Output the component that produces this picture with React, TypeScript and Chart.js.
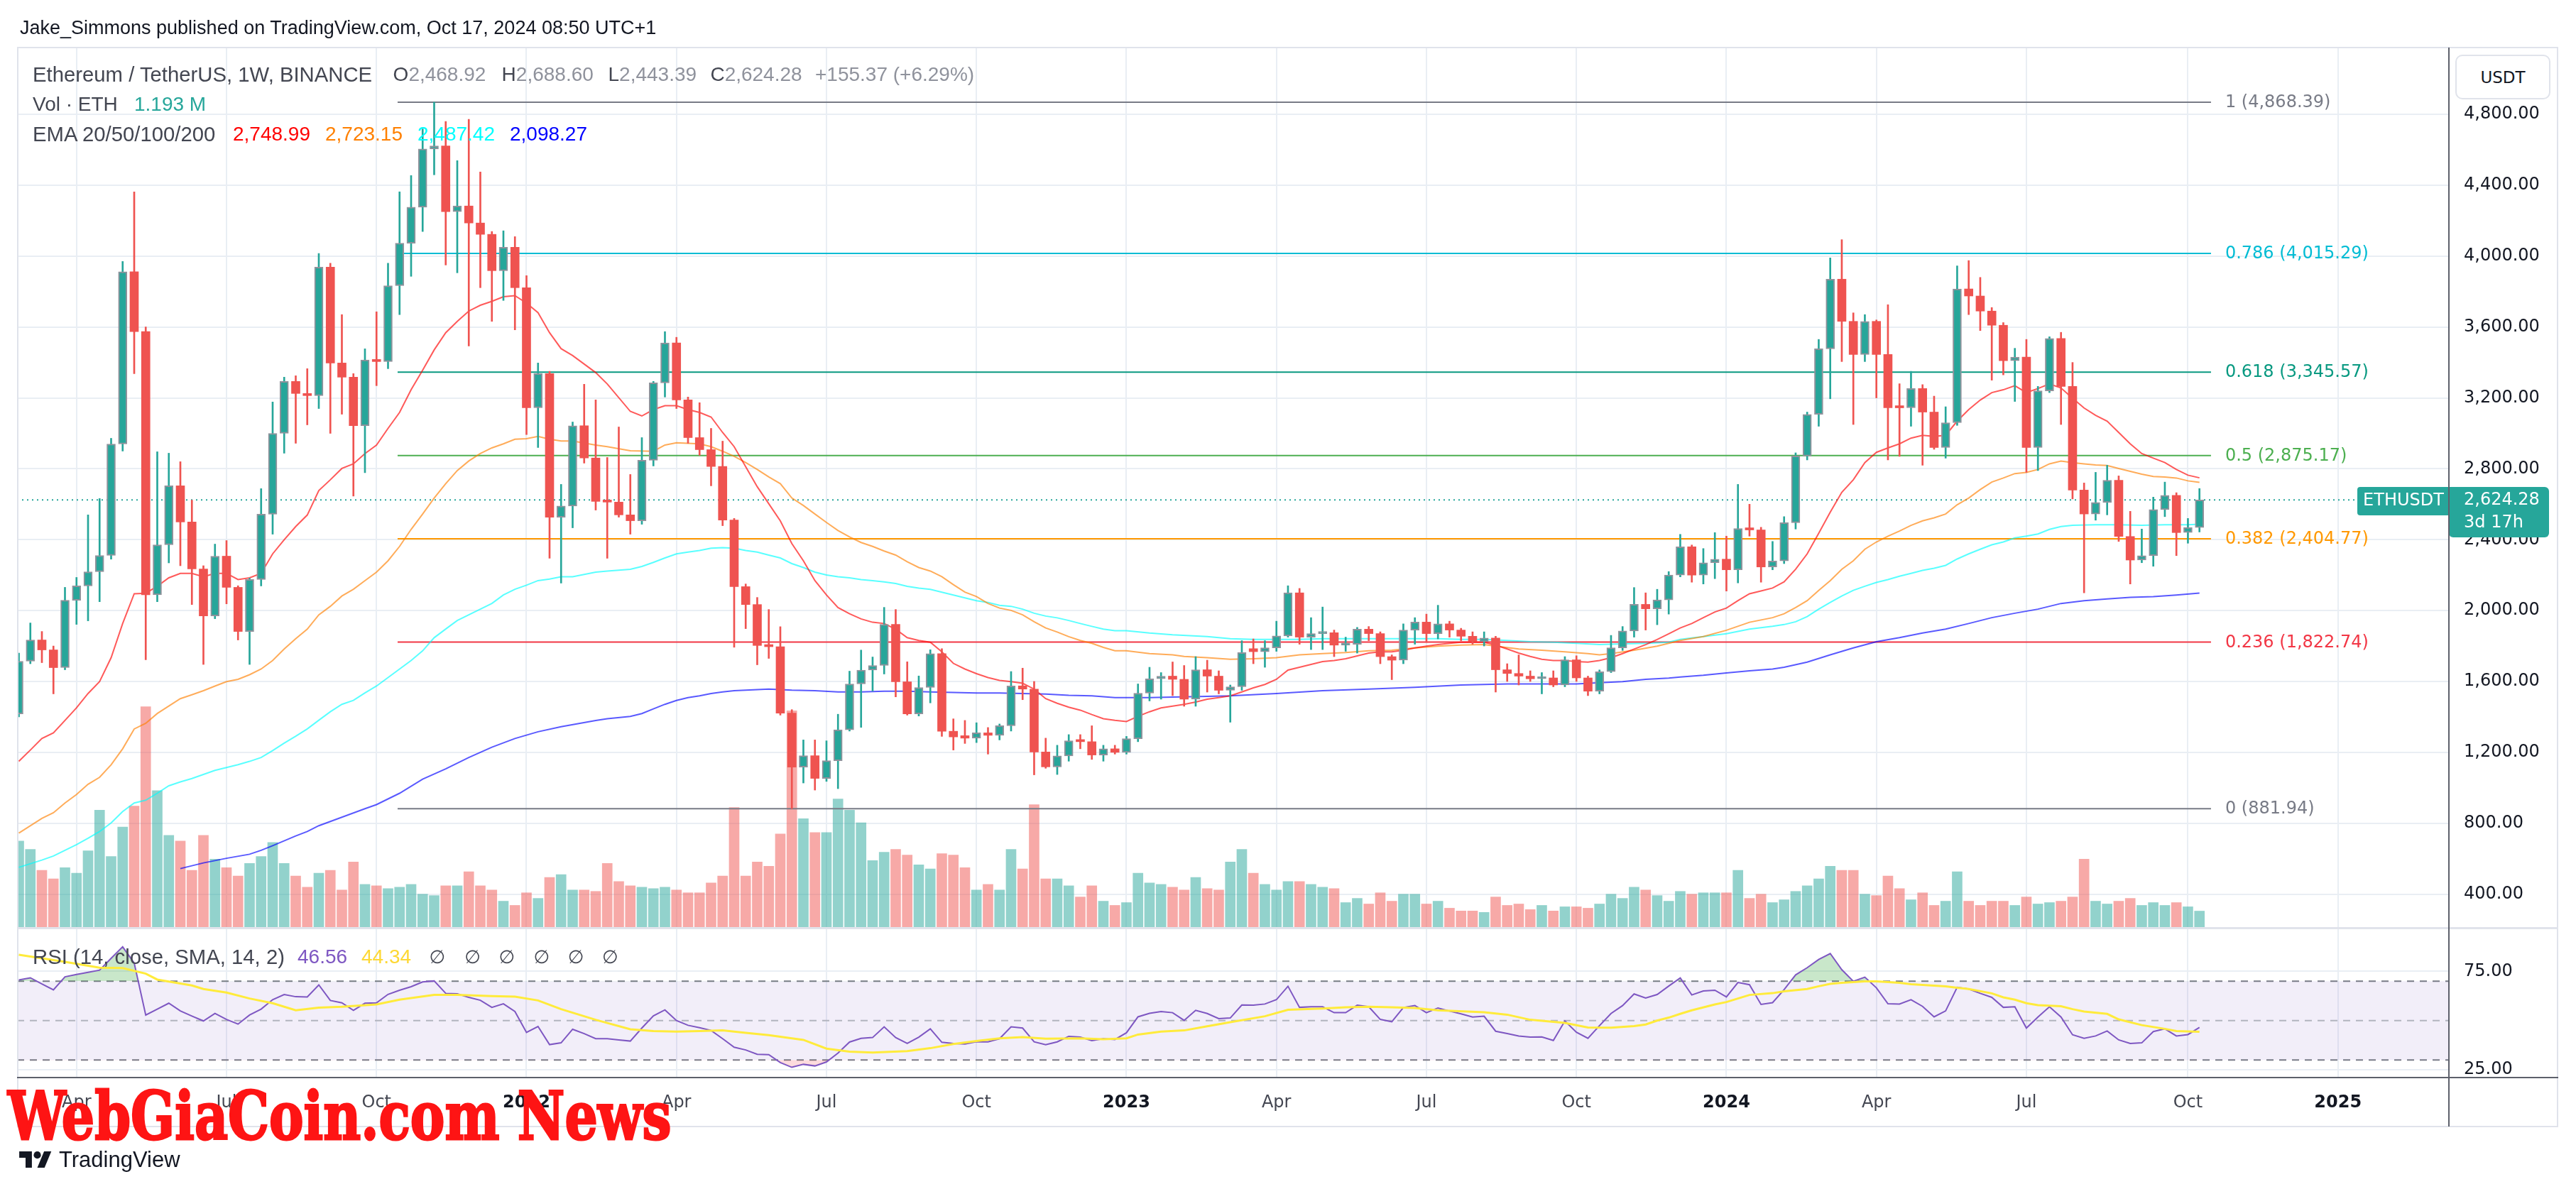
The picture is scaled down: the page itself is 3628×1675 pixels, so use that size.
import React, { useEffect, useLayoutEffect, useRef, useState } from "react";
import { Chart, registerables } from "chart.js";

Chart.register(...registerables);

// ---------------- data (weekly ETH/USDT, index 0 = week of 1 Mar 2021) ----------------
const opens = [
  1417, 1714, 1834, 1778, 1678, 2058, 2139, 2219, 2311, 2940,
  3912, 3574, 2089, 2371, 2704, 2500, 2235, 1970, 2307, 2131,
  1882, 2175, 2544, 3000, 3293, 3225, 3213, 3938, 3397, 3317,
  3043, 3414, 3405, 3833, 4073, 4276, 4605, 4622, 4251, 4283,
  4187, 4123, 3918, 4050, 3822, 3144, 3337, 2527, 2590, 3043,
  2861, 2616, 2612, 2540, 2507, 2848, 3285, 3510, 3189, 2976,
  2908, 2813, 2511, 2135, 2034, 1803, 1796, 1421, 1117, 1181,
  1053, 1153, 1327, 1586, 1664, 1690, 1922, 1598, 1417, 1566,
  1757, 1319, 1294, 1280, 1310, 1296, 1350, 1575, 1557, 1202,
  1118, 1180, 1270, 1260, 1185, 1220, 1200, 1277, 1534, 1615,
  1630, 1612, 1500, 1666, 1630, 1550, 1570, 1785, 1768, 1790,
  1857, 2100, 1850, 1870, 1875, 1805, 1810, 1895, 1870, 1740,
  1720, 1890, 1935, 1870, 1925, 1890, 1855, 1825, 1845, 1666,
  1645, 1630, 1615, 1620, 1580, 1722, 1620, 1545, 1655, 1790,
  1885, 2035, 2010, 2060, 2200, 2360, 2200, 2270, 2290, 2230,
  2463, 2455, 2246, 2280, 2496, 2872, 3107, 3477, 3870, 3632,
  3445, 3632, 3445, 3150, 3144, 3253, 3120, 2920, 3060, 3815,
  3775, 3690, 3610, 3410, 3430, 2920, 3240, 3535, 3265, 2680,
  2545, 2610, 2735, 2418, 2285, 2310, 2570, 2650, 2440, 2468.92,
];
const highs = [
  1760, 1930, 1882, 1800, 2131, 2187, 2540, 2632, 2972, 3970,
  4363, 3600, 2896, 2888, 2840, 2623, 2253, 2375, 2395, 2140,
  2183, 2688, 3177, 3317, 3325, 3365, 4015, 3960, 3670, 3337,
  3477, 3686, 3960, 4363, 4455, 4718, 4868.39, 4760, 4539, 4772,
  4475, 4139, 4143, 4110, 3890, 3397, 3350, 2712, 3064, 3277,
  3189, 2864, 3036, 2768, 2976, 3293, 3574, 3542, 3205, 3173,
  3028, 2956, 2520, 2150, 2074, 2006, 1909, 1441, 1270, 1270,
  1265, 1415, 1658, 1777, 1738, 2018, 2006, 1711, 1631, 1779,
  1785, 1389, 1380, 1367, 1340, 1360, 1656, 1675, 1600, 1280,
  1240, 1300, 1300, 1350, 1240, 1240, 1290, 1586, 1680, 1650,
  1710, 1690, 1740, 1720, 1660, 1580, 1830, 1840, 1830, 1940,
  2140, 2125, 1960, 2020, 1890, 1850, 1905, 1910, 1880, 1750,
  1925, 1960, 1980, 2030, 1940, 1900, 1880, 1880, 1855, 1700,
  1750, 1660, 1650, 1660, 1740, 1745, 1630, 1665, 1860, 1910,
  2130, 2100, 2120, 2220, 2430, 2370, 2350, 2440, 2420, 2712,
  2600, 2470, 2390, 2530, 2890, 3120, 3530, 3990, 4093, 3680,
  3670, 3640, 3726, 3280, 3350, 3275, 3210, 3150, 3945, 3975,
  3880, 3710, 3625, 3480, 3530, 3265, 3545, 3570, 3400, 2720,
  2780, 2820, 2760, 2560, 2460, 2640, 2725, 2665, 2520, 2688.6,
];
const lows = [
  1400, 1700, 1706, 1530, 1666, 1922, 1942, 2050, 2290, 2900,
  3337, 1722, 2050, 2269, 2253, 2034, 1696, 1954, 2038, 1834,
  1696, 2139, 2431, 2888, 2944, 3048, 3140, 3000, 3108, 2646,
  2778, 3269, 3365, 3670, 3886, 4139, 4459, 3950, 3906, 3493,
  3822, 3632, 3750, 3584, 2993, 2920, 2295, 2155, 2467, 2832,
  2567, 2295, 2527, 2431, 2487, 2816, 3205, 3140, 2944, 2876,
  2704, 2479, 1793, 1898, 1694, 1730, 1410, 881.94, 1027, 987,
  1036, 995, 1320, 1341, 1546, 1642, 1513, 1410, 1405, 1479,
  1290, 1213, 1250, 1255, 1190, 1270, 1320, 1497, 1073, 1110,
  1075, 1150, 1220, 1160, 1150, 1190, 1190, 1260, 1490, 1500,
  1520, 1460, 1460, 1540, 1530, 1370, 1550, 1700, 1680, 1770,
  1850, 1810, 1780, 1780, 1740, 1770, 1760, 1830, 1700, 1610,
  1700, 1810, 1820, 1840, 1850, 1830, 1810, 1800, 1540, 1600,
  1580, 1600, 1530, 1570, 1570, 1600, 1520, 1530, 1650, 1775,
  1850, 1890, 1920, 1980, 2190, 2160, 2150, 2180, 2110, 2156,
  2420, 2160, 2230, 2265, 2460, 2850, 3040, 3195, 3405, 3050,
  3405, 3200, 2850, 2870, 3040, 2820, 2910, 2860, 3045, 3670,
  3580, 3300, 3330, 3180, 2780, 2790, 3230, 3050, 2630, 2100,
  2510, 2540, 2390, 2150, 2270, 2250, 2530, 2310, 2380, 2443.39,
];
const closes = [
  1714, 1834, 1778, 1678, 2058, 2139, 2219, 2311, 2940, 3912,
  3574, 2089, 2371, 2704, 2500, 2235, 1970, 2307, 2131, 1882,
  2175, 2544, 3000, 3293, 3225, 3213, 3938, 3397, 3317, 3043,
  3414, 3405, 3833, 4073, 4276, 4605, 4622, 4251, 4283, 4187,
  4123, 3918, 4050, 3822, 3144, 3337, 2527, 2590, 3043, 2861,
  2616, 2612, 2540, 2507, 2848, 3285, 3510, 3189, 2976, 2908,
  2813, 2511, 2135, 2034, 1803, 1796, 1421, 1117, 1181, 1053,
  1153, 1327, 1586, 1664, 1690, 1922, 1598, 1417, 1566, 1757,
  1319, 1287, 1280, 1310, 1296, 1350, 1575, 1557, 1202, 1118,
  1180, 1265, 1260, 1185, 1220, 1200, 1277, 1534, 1615, 1630,
  1612, 1500, 1666, 1630, 1550, 1570, 1763, 1768, 1790, 1857,
  2100, 1850, 1870, 1875, 1805, 1810, 1895, 1870, 1740, 1720,
  1890, 1935, 1870, 1925, 1890, 1855, 1825, 1845, 1666, 1645,
  1630, 1615, 1620, 1580, 1722, 1620, 1545, 1655, 1790, 1885,
  2035, 2010, 2060, 2200, 2360, 2200, 2270, 2290, 2230, 2463,
  2455, 2246, 2280, 2496, 2872, 3107, 3477, 3870, 3632, 3445,
  3632, 3445, 3144, 3144, 3253, 3120, 2920, 3060, 3815, 3775,
  3690, 3610, 3410, 3430, 2920, 3240, 3535, 3265, 2680, 2545,
  2610, 2735, 2418, 2285, 2310, 2570, 2650, 2440, 2468.92, 2624.28,
];
// volume in millions of ETH
const volumes = [
  6.2, 5.6, 4.1, 3.5, 4.3, 3.9, 5.5, 8.4, 5.1, 7.2,
  8.7, 15.8, 9.8, 6.6, 6.2, 4.1, 6.6, 4.9, 4.3, 3.7,
  4.6, 5.1, 6.1, 4.6, 3.7, 2.9, 3.9, 4.1, 2.7, 4.7,
  3.1, 3.0, 2.8, 2.9, 3.1, 2.4, 2.3, 3.0, 3.0, 4.0,
  3.0, 2.7, 1.9, 1.6, 2.5, 2.1, 3.6, 3.8, 2.7, 2.7,
  2.6, 4.6, 3.3, 3.0, 2.9, 2.8, 2.9, 2.7, 2.5, 2.5,
  3.2, 3.7, 8.6, 3.7, 4.7, 4.4, 6.7, 15.5, 7.8, 6.8,
  6.8, 9.2, 8.4, 7.5, 4.8, 5.4, 5.6, 5.2, 4.5, 4.2,
  5.3, 5.2, 4.3, 2.7, 3.1, 2.7, 5.6, 4.2, 8.8, 3.5,
  3.5, 3.0, 2.2, 3.0, 1.9, 1.6, 1.8, 3.9, 3.2, 3.1,
  2.9, 2.7, 3.6, 2.8, 2.7, 4.7, 5.6, 3.9, 3.1, 2.7,
  3.3, 3.3, 3.1, 2.9, 2.8, 1.8, 2.1, 1.7, 2.5, 1.9,
  2.4, 2.4, 1.7, 1.9, 1.4, 1.2, 1.2, 1.1, 2.2, 1.6,
  1.7, 1.3, 1.6, 1.2, 1.5, 1.5, 1.4, 1.7, 2.4, 2.1,
  2.9, 2.7, 2.3, 1.9, 2.6, 2.4, 2.5, 2.5, 2.5, 4.1,
  2.1, 2.4, 1.8, 2.0, 2.6, 3.0, 3.5, 4.4, 4.1, 4.1,
  2.4, 2.3, 3.7, 2.8, 2.0, 2.5, 1.6, 1.9, 4.0, 1.9,
  1.6, 1.9, 1.9, 1.6, 2.2, 1.7, 1.8, 1.9, 2.2, 4.9,
  1.9, 1.7, 1.9, 2.1, 1.6, 1.8, 1.6, 1.8, 1.5, 1.193,
];
// EMA readings: [bar index, value]
const ema20 = [
  [0, 1149], [1, 1213], [2, 1278], [3, 1310], [4, 1380], [5, 1451], [6, 1532], [7, 1599], [8, 1734], [9, 1927],
  [10, 2095], [11, 2098], [12, 2137], [13, 2185], [14, 2210], [15, 2210], [16, 2191], [17, 2210], [18, 2210], [19, 2175],
  [20, 2185], [21, 2210], [22, 2320], [23, 2400], [24, 2474], [25, 2539], [26, 2677], [27, 2738], [28, 2802], [29, 2828],
  [30, 2886], [31, 2934], [32, 3028], [33, 3118], [34, 3246], [35, 3356], [36, 3471], [37, 3568], [38, 3632], [39, 3690],
  [40, 3723], [41, 3745], [42, 3771], [43, 3777], [44, 3735], [45, 3681], [46, 3568], [47, 3478], [48, 3439], [50, 3343],
  [51, 3279], [53, 3124], [54, 3098], [55, 3134], [56, 3156], [57, 3156], [58, 3134], [59, 3118], [60, 3092], [61, 3005],
  [62, 2925], [63, 2812], [64, 2699], [65, 2603], [66, 2506], [67, 2378], [68, 2281], [69, 2169], [70, 2088], [71, 2017],
  [72, 1982], [73, 1953], [74, 1934], [75, 1927], [76, 1895], [77, 1847], [78, 1831], [79, 1821], [80, 1767], [81, 1702],
  [82, 1670], [83, 1644], [84, 1622], [85, 1606], [86, 1599], [87, 1590], [88, 1557], [89, 1503], [90, 1477], [91, 1455],
  [92, 1438], [93, 1413], [94, 1390], [95, 1381], [96, 1374], [97, 1403], [98, 1429], [99, 1451], [100, 1461], [101, 1471],
  [102, 1484], [103, 1500], [104, 1509], [105, 1519], [106, 1541], [107, 1564], [108, 1583], [109, 1612], [110, 1664], [111, 1680],
  [112, 1696], [113, 1712], [114, 1718], [115, 1728], [116, 1744], [117, 1760], [118, 1767], [119, 1767], [120, 1776], [121, 1789],
  [122, 1799], [123, 1808], [124, 1815], [125, 1821], [126, 1821], [127, 1821], [128, 1805], [129, 1783], [130, 1760], [131, 1741],
  [132, 1725], [133, 1718], [134, 1718], [135, 1712], [136, 1709], [137, 1718], [138, 1734], [139, 1757], [140, 1783], [141, 1808],
  [142, 1837], [143, 1869], [144, 1902], [145, 1927], [146, 1960], [147, 1992], [148, 2014], [149, 2056], [150, 2095], [151, 2111],
  [152, 2127], [153, 2162], [154, 2233], [155, 2320], [156, 2436], [157, 2555], [158, 2667], [159, 2738], [160, 2835], [161, 2893],
  [162, 2918], [163, 2941], [164, 2973], [165, 2989], [166, 2983], [167, 2989], [168, 3069], [169, 3134], [170, 3188], [171, 3230],
  [172, 3246], [173, 3269], [174, 3230], [175, 3253], [176, 3279], [177, 3256], [178, 3198], [179, 3143], [180, 3102], [181, 3069],
  [182, 3005], [183, 2941], [184, 2886], [185, 2860], [186, 2835], [187, 2796], [188, 2764], [189, 2748.99],
];
const ema50 = [
  [0, 744], [2, 827], [3, 859], [4, 914], [5, 962], [6, 1020], [7, 1059], [8, 1130], [9, 1220], [10, 1332],
  [11, 1364], [12, 1419], [13, 1461], [14, 1503], [15, 1525], [16, 1548], [17, 1574], [18, 1599], [19, 1612], [20, 1638],
  [21, 1670], [22, 1718], [23, 1783], [24, 1841], [25, 1895], [26, 1976], [27, 2024], [28, 2082], [29, 2120], [30, 2169],
  [31, 2217], [32, 2281], [33, 2362], [34, 2458], [35, 2545], [36, 2635], [37, 2716], [38, 2790], [39, 2844], [40, 2886],
  [41, 2918], [42, 2941], [43, 2967], [44, 2970], [45, 2983], [46, 2967], [47, 2957], [48, 2957], [50, 2934], [51, 2925],
  [53, 2902], [55, 2899], [56, 2934], [57, 2947], [59, 2941], [60, 2925], [61, 2899], [62, 2870], [63, 2835], [64, 2796],
  [65, 2754], [66, 2716], [67, 2635], [68, 2593], [69, 2545], [70, 2497], [71, 2452], [72, 2416], [73, 2384], [74, 2362],
  [75, 2336], [76, 2313], [77, 2275], [78, 2243], [79, 2223], [80, 2191], [81, 2146], [82, 2104], [83, 2079], [84, 2040],
  [85, 2014], [86, 2001], [87, 1976], [88, 1937], [89, 1902], [90, 1879], [91, 1853], [92, 1831], [93, 1815], [94, 1792],
  [95, 1773], [96, 1773], [98, 1757], [100, 1750], [101, 1741], [103, 1734], [105, 1725], [107, 1728], [109, 1734], [111, 1750],
  [113, 1757], [115, 1763], [117, 1773], [119, 1776], [121, 1789], [123, 1799], [125, 1805], [127, 1808], [128, 1799], [130, 1783],
  [132, 1776], [134, 1767], [136, 1757], [137, 1750], [138, 1757], [140, 1776], [142, 1799], [143, 1815], [144, 1831], [146, 1853],
  [148, 1889], [150, 1934], [152, 1960], [153, 1982], [154, 2017], [155, 2056], [156, 2114], [157, 2169], [158, 2233], [159, 2281],
  [160, 2346], [161, 2387], [162, 2420], [163, 2449], [164, 2481], [165, 2506], [166, 2523], [167, 2545], [168, 2597], [169, 2635],
  [170, 2683], [171, 2725], [172, 2748], [173, 2773], [174, 2780], [175, 2796], [176, 2828], [177, 2844], [178, 2835], [179, 2828],
  [180, 2822], [181, 2819], [182, 2802], [183, 2786], [184, 2770], [185, 2757], [186, 2754], [187, 2748], [188, 2732], [189, 2723.15],
];
const ema100 = [
  [0, 551], [2, 592], [3, 615], [4, 647], [5, 679], [6, 715], [7, 753], [8, 802], [9, 866], [10, 914],
  [11, 930], [12, 969], [13, 1011], [14, 1033], [15, 1052], [16, 1075], [17, 1098], [18, 1114], [19, 1130], [20, 1149],
  [21, 1171], [22, 1210], [23, 1252], [24, 1291], [25, 1332], [26, 1381], [27, 1429], [28, 1471], [29, 1493], [30, 1535],
  [31, 1574], [32, 1622], [33, 1670], [34, 1718], [35, 1773], [36, 1847], [37, 1896], [38, 1944], [39, 1976], [40, 2008],
  [41, 2040], [42, 2088], [43, 2120], [44, 2143], [45, 2169], [46, 2178], [47, 2191], [48, 2191], [50, 2217], [51, 2223],
  [53, 2233], [54, 2249], [55, 2272], [56, 2297], [57, 2320], [58, 2330], [59, 2339], [60, 2352], [61, 2355], [62, 2352],
  [63, 2339], [64, 2330], [65, 2313], [66, 2297], [67, 2265], [68, 2243], [69, 2217], [70, 2201], [71, 2191], [72, 2185],
  [73, 2175], [74, 2169], [75, 2162], [76, 2153], [77, 2137], [78, 2127], [79, 2120], [80, 2104], [81, 2088], [82, 2072],
  [83, 2056], [84, 2046], [85, 2030], [86, 2024], [87, 2008], [88, 1985], [89, 1969], [90, 1959], [91, 1944], [92, 1927],
  [93, 1911], [94, 1895], [95, 1886], [96, 1886], [98, 1873], [100, 1863], [103, 1853], [105, 1841], [107, 1837], [109, 1837],
  [111, 1837], [113, 1841], [115, 1841], [117, 1841], [119, 1841], [121, 1841], [123, 1841], [125, 1837], [127, 1837], [129, 1831],
  [131, 1824], [133, 1821], [135, 1815], [137, 1808], [139, 1812], [141, 1815], [143, 1821], [144, 1837], [146, 1853], [148, 1869],
  [150, 1895], [152, 1911], [153, 1921], [154, 1937], [155, 1966], [156, 2008], [157, 2046], [158, 2082], [159, 2114], [160, 2137],
  [161, 2159], [162, 2175], [163, 2194], [164, 2210], [165, 2227], [166, 2239], [167, 2255], [168, 2291], [169, 2320], [170, 2346],
  [171, 2371], [172, 2387], [173, 2410], [174, 2420], [175, 2432], [176, 2458], [177, 2474], [178, 2481], [180, 2484], [182, 2484],
  [184, 2481], [186, 2484], [188, 2484], [189, 2487.42],
];
const ema200 = [
  [14, 544], [16, 576], [18, 602], [20, 625], [21, 647], [22, 673], [24, 728], [25, 753], [26, 786], [28, 834],
  [30, 882], [31, 905], [33, 969], [35, 1049], [37, 1107], [39, 1171], [41, 1229], [43, 1278], [45, 1316], [47, 1345],
  [50, 1380], [51, 1390], [53, 1403], [54, 1419], [55, 1445], [56, 1471], [57, 1493], [58, 1509], [59, 1519], [60, 1532],
  [61, 1541], [62, 1548], [63, 1551], [64, 1554], [65, 1557], [66, 1554], [67, 1551], [69, 1548], [71, 1541], [73, 1541],
  [75, 1545], [77, 1545], [79, 1541], [81, 1538], [83, 1535], [85, 1535], [87, 1532], [89, 1529], [91, 1522], [93, 1519],
  [95, 1509], [98, 1509], [100, 1512], [103, 1516], [105, 1519], [109, 1532], [113, 1548], [117, 1557], [121, 1567], [125, 1580],
  [129, 1586], [133, 1586], [135, 1586], [137, 1593], [139, 1599], [141, 1612], [143, 1619], [144, 1625], [146, 1635], [148, 1648],
  [150, 1660], [152, 1670], [153, 1680], [155, 1709], [157, 1750], [159, 1789], [161, 1824], [163, 1847], [165, 1873], [167, 1895],
  [169, 1927], [171, 1960], [173, 1985], [175, 2008], [177, 2040], [179, 2056], [181, 2066], [183, 2075], [185, 2079], [187, 2088],
  [189, 2098.27],
];
const rsi = [
  70.6, 71.7, 68.6, 65.6, 72.2, 73.4, 74.5, 75.6, 81.6, 87.4,
  79.2, 52.8, 55.8, 58.8, 54.9, 52.3, 49.8, 53.6, 50.6, 48.2,
  52.8, 55.8, 60.6, 63.2, 62.1, 62.0, 68.1, 60.2, 59.0, 55.2,
  58.8, 59.0, 63.3, 65.4, 67.2, 69.6, 70.1, 63.8, 63.6, 61.8,
  60.3, 56.7, 58.5, 54.6, 44.0, 47.0, 37.8, 38.7, 45.6, 43.4,
  40.8, 40.8, 40.2, 39.6, 46.2, 52.4, 55.4, 50.0, 47.6, 46.4,
  45.0, 40.8, 36.5, 35.1, 32.9, 32.7, 28.7, 26.3, 27.8, 27.0,
  29.0, 33.5, 39.1, 41.0, 41.4, 46.8, 41.4, 38.4, 41.6, 45.8,
  39.0, 38.4, 38.1, 39.3, 39.2, 40.8, 46.8, 46.2, 39.2, 37.8,
  39.2, 42.0, 41.6, 39.8, 40.8, 40.4, 43.8, 51.9, 53.7, 54.6,
  54.0, 50.1, 55.2, 53.6, 51.0, 51.3, 57.9, 57.8, 58.4, 60.6,
  67.4, 56.7, 57.0, 57.0, 54.0, 54.0, 57.8, 57.0, 50.6, 49.4,
  56.6, 57.6, 54.0, 56.4, 54.8, 53.4, 51.8, 52.2, 44.6, 43.4,
  42.2, 41.6, 41.7, 39.9, 49.8, 44.1, 41.0, 47.4, 53.6, 57.6,
  63.5, 61.4, 63.2, 67.5, 71.6, 63.0, 65.0, 65.4, 62.0, 69.3,
  68.2, 58.2, 59.1, 65.7, 73.2, 76.8, 81.0, 84.0, 75.8, 69.9,
  72.0, 66.6, 58.5, 58.4, 60.6, 57.2, 51.9, 54.9, 66.9, 66.0,
  63.8, 61.8, 56.7, 57.0, 46.2, 51.8, 57.0, 51.8, 42.8, 41.0,
  42.2, 44.7, 40.2, 38.4, 38.7, 44.4, 45.8, 42.2, 42.9, 46.56,
];
const rsiSma = [
  [0, 83.4], [2, 81.6], [4, 79.8], [7, 76.8], [9, 76.6], [11, 73.8], [12, 70.8], [13, 69.8], [15, 67.8], [16, 66.0],
  [18, 64.2], [20, 61.2], [22, 58.8], [24, 55.2], [26, 56.6], [28, 57.0], [31, 58.2], [33, 60.6], [36, 63.0], [38, 63.0],
  [41, 62.4], [43, 62.1], [45, 60.2], [47, 55.8], [50, 50.4], [53, 45.6], [55, 44.7], [57, 44.4], [59, 44.7], [61, 45.0],
  [63, 43.8], [65, 42.6], [68, 40.2], [70, 35.8], [72, 34.2], [74, 33.8], [77, 34.5], [79, 36.0], [81, 38.1], [83, 39.6],
  [85, 41.0], [87, 41.6], [89, 40.8], [92, 41.0], [94, 40.5], [96, 41.0], [97, 42.9], [99, 44.4], [101, 45.0], [103, 47.1],
  [105, 49.2], [108, 52.2], [110, 55.5], [113, 56.1], [115, 56.7], [117, 57.0], [119, 56.7], [121, 56.4], [123, 55.2], [127, 54.2],
  [129, 53.0], [131, 50.4], [134, 48.8], [136, 46.5], [138, 46.4], [140, 47.2], [141, 48.0], [142, 50.0], [143, 51.5], [144, 53.4],
  [145, 55.2], [147, 58.2], [148, 59.4], [149, 61.2], [150, 63.0], [152, 63.9], [153, 64.8], [155, 66.0], [156, 67.4], [157, 68.6],
  [158, 69.2], [160, 69.9], [161, 69.9], [163, 69.2], [164, 68.4], [165, 68.1], [167, 67.4], [168, 66.6], [169, 66.0], [171, 63.8],
  [172, 61.8], [173, 60.6], [174, 58.8], [175, 57.8], [177, 57.3], [178, 55.8], [179, 54.6], [181, 53.4], [182, 50.6], [184, 47.7],
  [186, 45.8], [187, 44.7], [189, 44.34],
];
// time axis ticks (bar index of first weekly bar of the month)
const timeTickIndex = [5, 18, 31, 44, 57, 70, 83, 96, 109, 122, 135, 148, 161, 174, 188, 201];
const timeTickLabels = ["Apr", "Jul", "Oct", "2022", "Apr", "Jul", "Oct", "2023", "Apr", "Jul", "Oct", "2024", "Apr", "Jul", "Oct", "2025"];
// Fibonacci retracement
const fibRatios = ["1", "0.786", "0.618", "0.5", "0.382", "0.236", "0"];
const fibPrices = [4868.39, 4015.29, 3345.57, 2875.17, 2404.77, 1822.74, 881.94];
const fibColors = ["#787b86", "#00bcd4", "#089981", "#4caf50", "#ff9800", "#f23645", "#787b86"];
const fibStart = 32.83;
const fibEnd = 190;
const rsiLevels = [70, 50, 30];
const rsiTicks = [25, 75];

// ---------------- layout constants ----------------
const W = 3628;
const H = 1675;
const X_MIN = -0.154;
const X_MAX = 210.62;
const P_MIN = 210;
const P_MAX = 5177;
const V_MAX = 62.9;
const R_MIN = 21.1;
const R_MAX = 96.7;
const AXIS_W = 154;
const GRID = "#e9eef4";
const UP = "#26a69a";
const DOWN = "#ef5350";
const SANS = '"DejaVu Sans", sans-serif';
const LEG = '"Liberation Sans", Arial, sans-serif';

const fmt = (v: number) =>
  v.toLocaleString("en-US", { minimumFractionDigits: 2, maximumFractionDigits: 2 });
const pts = (arr: number[][]) => arr.map(([x, y]) => ({ x, y }));
const last = closes.length - 1;
const lastClose = closes[last];

const T = ({ x, y, size = 28, color = "#434651", family = LEG, weight = 400, children }: any) => (
  <div
    style={{
      position: "absolute",
      left: x,
      top: y,
      transform: "translateY(-50%)",
      fontSize: size,
      lineHeight: 1,
      color,
      fontFamily: family,
      fontWeight: weight,
      whiteSpace: "pre",
    }}
  >
    {children}
  </div>
);

export default function App() {
  const mainRef = useRef<HTMLCanvasElement>(null);
  const rsiRef = useRef<HTMLCanvasElement>(null);
  const wmRef = useRef<HTMLDivElement>(null);
  const [wmScale, setWmScale] = useState(1);

  useLayoutEffect(() => {
    if (wmRef.current) {
      const w = wmRef.current.offsetWidth;
      if (w > 0) setWmScale(934 / w);
    }
  }, []);

  useEffect(() => {
    const isUp = closes.map((c, i) => c >= opens[i]);
    const xTicks = (s: any) => {
      s.ticks = timeTickIndex.map((v) => ({ value: v }));
    };

    const labelPlugin = {
      id: "tvLabels",
      afterDatasetsDraw(chart: any) {
        const { ctx, scales } = chart;
        ctx.save();
        ctx.font = `24px ${SANS}`;
        ctx.textAlign = "left";
        ctx.textBaseline = "middle";
        const lx = scales.x.getPixelForValue(fibEnd) + 20;
        fibRatios.forEach((r, k) => {
          ctx.fillStyle = fibColors[k];
          ctx.fillText(`${r} (${fmt(fibPrices[k])})`, lx, scales.y.getPixelForValue(fibPrices[k]) + 1);
        });
        ctx.restore();
      },
      afterDraw(chart: any) {
        const { ctx, scales, chartArea } = chart;
        const py = Math.round(scales.y.getPixelForValue(lastClose));
        const r = chartArea.right;
        ctx.save();
        ctx.fillStyle = UP;
        ctx.beginPath();
        ctx.roundRect(r - 129, py - 18, 129, 40, [4, 0, 0, 4]);
        ctx.fill();
        ctx.beginPath();
        ctx.roundRect(r, py - 18, 141, 71, [0, 6, 6, 6]);
        ctx.fill();
        ctx.fillStyle = "#ffffff";
        ctx.font = `24px ${SANS}`;
        ctx.textBaseline = "middle";
        ctx.textAlign = "center";
        ctx.fillText("ETHUSDT", r - 64, py + 2);
        ctx.textAlign = "left";
        ctx.fillText(fmt(lastClose), r + 21, py + 1);
        ctx.fillText("3d 17h", r + 21, py + 33);
        ctx.restore();
      },
    };

    const lineDs = (data: any[], color: string, order: number, extra: any = {}) => ({
      type: "line",
      data,
      borderColor: color,
      borderWidth: 2,
      pointRadius: 0,
      tension: 0,
      fill: false,
      order,
      yAxisID: "y",
      ...extra,
    });

    const mainDatasets: any[] = [
      {
        type: "bar",
        data: closes.map((c, i) => ({ x: i, y: [opens[i], c] })),
        backgroundColor: isUp.map((u) => (u ? UP : DOWN)),
        borderColor: isUp.map((u) => (u ? "#8e929b" : DOWN)),
        borderWidth: isUp.map((u) => (u ? 2 : 0)),
        borderSkipped: false,
        barThickness: 12,
        minBarLength: 3,
        grouped: false,
        order: 0,
        yAxisID: "y",
      },
      {
        type: "bar",
        data: highs.map((h, i) => ({ x: i, y: [lows[i], h] })),
        backgroundColor: isUp.map((u) => (u ? UP : DOWN)),
        borderWidth: 0,
        barThickness: 2,
        grouped: false,
        order: 1,
        yAxisID: "y",
      },
      lineDs(pts(ema20), "rgba(255,0,0,0.65)", 2),
      lineDs(pts(ema50), "rgba(255,128,0,0.65)", 2),
      lineDs(pts(ema100), "rgba(0,255,255,0.65)", 2),
      lineDs(pts(ema200), "rgba(0,0,255,0.65)", 2),
      ...fibPrices.map((p, k) =>
        lineDs(
          [
            { x: fibStart, y: p },
            { x: fibEnd, y: p },
          ],
          fibColors[k],
          3
        )
      ),
      lineDs(
        [
          { x: X_MIN, y: lastClose },
          { x: X_MAX, y: lastClose },
        ],
        UP,
        3,
        { borderDash: [2, 5] }
      ),
      {
        type: "bar",
        data: volumes.map((v, i) => ({ x: i, y: v })),
        backgroundColor: isUp.map((u) => (u ? "rgba(38,166,154,0.5)" : "rgba(239,83,80,0.5)")),
        borderWidth: 0,
        barThickness: 14,
        grouped: false,
        order: 6,
        yAxisID: "yv",
      },
    ];

    const main = new Chart(mainRef.current as HTMLCanvasElement, {
      type: "bar",
      data: { datasets: mainDatasets },
      options: {
        responsive: false,
        animation: false,
        devicePixelRatio: 1,
        events: [],
        layout: { padding: { left: 24, top: 67, right: 25, bottom: H - 1307 } },
        plugins: { legend: { display: false }, tooltip: { enabled: false } },
        scales: {
          x: {
            type: "linear",
            min: X_MIN,
            max: X_MAX,
            offset: false,
            grid: { color: GRID, lineWidth: 2, drawTicks: false, offset: false },
            border: { display: false },
            ticks: { display: false },
            afterBuildTicks: xTicks,
            afterFit: (s: any) => {
              s.height = 0;
            },
          },
          y: {
            position: "right",
            min: P_MIN,
            max: P_MAX,
            grid: { color: GRID, lineWidth: 2, drawTicks: false },
            border: { display: false },
            ticks: {
              stepSize: 400,
              includeBounds: false,
              padding: 21,
              color: "#131722",
              font: { family: SANS, size: 24 },
              callback: (v: any) => fmt(Number(v)),
            },
            afterFit: (s: any) => {
              s.width = AXIS_W;
            },
          },
          yv: { display: false, min: 0, max: V_MAX },
        },
      } as any,
      plugins: [labelPlugin],
    } as any);

    const full = (v: number) => [
      { x: X_MIN, y: v },
      { x: X_MAX, y: v },
    ];
    const rsiDatasets: any[] = [
      {
        type: "line",
        data: full(rsiLevels[0]),
        borderColor: "#787b86",
        borderWidth: 2,
        borderDash: [10, 8],
        pointRadius: 0,
        fill: { target: { value: rsiLevels[2] }, above: "rgba(126,87,194,0.1)", below: "rgba(126,87,194,0.1)" },
        order: 9,
      },
      {
        type: "line",
        data: full(rsiLevels[1]),
        borderColor: "#b2b5be",
        borderWidth: 2,
        borderDash: [10, 8],
        pointRadius: 0,
        fill: false,
        order: 8,
      },
      {
        type: "line",
        data: full(rsiLevels[2]),
        borderColor: "#787b86",
        borderWidth: 2,
        borderDash: [10, 8],
        pointRadius: 0,
        fill: false,
        order: 8,
      },
      {
        type: "line",
        data: rsi.map((v, i) => ({ x: i, y: v })),
        borderWidth: 0,
        borderColor: "rgba(0,0,0,0)",
        pointRadius: 0,
        fill: { target: { value: rsiLevels[2] }, above: "rgba(0,0,0,0)", below: "rgba(242,54,69,0.18)" },
        order: 7,
      },
      {
        type: "line",
        data: rsi.map((v, i) => ({ x: i, y: v })),
        borderColor: "#7e57c2",
        borderWidth: 2,
        pointRadius: 0,
        tension: 0,
        fill: { target: { value: rsiLevels[0] }, above: "rgba(76,175,80,0.3)", below: "rgba(0,0,0,0)" },
        order: 1,
      },
      {
        type: "line",
        data: pts(rsiSma),
        borderColor: "#ffeb3b",
        borderWidth: 3,
        pointRadius: 0,
        tension: 0,
        fill: false,
        order: 0,
      },
    ];

    const rsiChart = new Chart(rsiRef.current as HTMLCanvasElement, {
      type: "line",
      data: { datasets: rsiDatasets },
      options: {
        responsive: false,
        animation: false,
        devicePixelRatio: 1,
        events: [],
        layout: { padding: { left: 24, top: 1308, right: 25, bottom: H - 1587 } },
        plugins: { legend: { display: false }, tooltip: { enabled: false } },
        scales: {
          x: {
            type: "linear",
            min: X_MIN,
            max: X_MAX,
            offset: false,
            grid: { color: GRID, lineWidth: 2, drawTicks: false },
            border: { display: false },
            ticks: {
              autoSkip: false,
              maxRotation: 0,
              minRotation: 0,
              padding: 21,
              font: (c: any) => ({
                family: SANS,
                size: 24,
                weight: /^\d{4}$/.test(timeTickLabels[c.index] || "") ? "bold" : "normal",
              }),
              color: (c: any) => (/^\d{4}$/.test(timeTickLabels[c.index] || "") ? "#131722" : "#434651"),
              callback: (_v: any, i: number) => timeTickLabels[i],
            },
            afterBuildTicks: xTicks,
            afterFit: (s: any) => {
              s.height = 1587 - 1518;
            },
          },
          y: {
            position: "right",
            min: R_MIN,
            max: R_MAX,
            grid: { color: GRID, lineWidth: 2, drawTicks: false },
            border: { display: false },
            afterBuildTicks: (s: any) => {
              s.ticks = rsiTicks.map((v) => ({ value: v }));
            },
            ticks: {
              padding: 21,
              color: "#131722",
              font: { family: SANS, size: 24 },
              callback: (v: any) => Number(v).toFixed(2),
            },
            afterFit: (s: any) => {
              s.width = AXIS_W;
            },
          },
        },
      } as any,
    } as any);

    return () => {
      main.destroy();
      rsiChart.destroy();
    };
  }, []);

  const emaLast = [ema20, ema50, ema100, ema200].map((a) => a[a.length - 1][1]);
  const emaColors = ["#ff0000", "#ff8000", "#00ffff", "#0000ff"];
  const emaX = [328, 458, 588, 718];
  const ohlcX = [553.6, 706.6, 856.5, 1000.4];
  const ohlcLetters = ["O", "H", "L", "C"];
  const ohlcVals = [opens[last], highs[last], lows[last], closes[last]];
  const naX = [604.6, 654.3, 702.5, 751.5, 799.7, 848];

  return (
    <div
      style={{
        position: "absolute",
        left: 0,
        top: 0,
        width: W,
        height: H,
        background: "#ffffff",
        overflow: "hidden",
      }}
    >
      <canvas ref={mainRef} width={W} height={H} style={{ position: "absolute", left: 0, top: 0 }} />
      <canvas ref={rsiRef} width={W} height={H} style={{ position: "absolute", left: 0, top: 0 }} />

      {/* frame & separators */}
      <div
        style={{
          position: "absolute",
          left: 24,
          top: 66,
          width: 3603 - 24,
          height: 1588 - 66,
          border: "2px solid #e0e3eb",
          boxSizing: "border-box",
        }}
      />
      <div style={{ position: "absolute", left: 24, top: 1306, width: 3603 - 24, height: 3, background: "#e0e3eb" }} />
      <div style={{ position: "absolute", left: 24, top: 1517, width: 3603 - 24, height: 2, background: "#5d606b" }} />
      <div style={{ position: "absolute", left: 3448, top: 67, width: 2, height: 1520, background: "#5d606b" }} />

      {/* currency box */}
      <div
        style={{
          position: "absolute",
          left: 3458,
          top: 77,
          width: 134,
          height: 63,
          border: "2px solid #e0e3eb",
          borderRadius: 10,
          boxSizing: "border-box",
          background: "#fff",
          display: "flex",
          alignItems: "center",
          justifyContent: "center",
          fontFamily: SANS,
          fontSize: 23,
          color: "#131722",
        }}
      >
        USDT
      </div>

      {/* header */}
      <T x={28} y={39} size={27} color="#131722">
        Jake_Simmons published on TradingView.com, Oct 17, 2024 08:50 UTC+1
      </T>

      {/* legend */}
      <T x={46} y={105} size={29.3}>Ethereum / TetherUS, 1W, BINANCE</T>
      {ohlcX.map((x, k) => (
        <T key={k} x={x} y={105}>
          {ohlcLetters[k]}
          <span style={{ color: "#8f929c" }}>{fmt(ohlcVals[k])}</span>
        </T>
      ))}
      <T x={1148} y={105} color="#8f929c">
        +155.37 (+6.29%)
      </T>
      <T x={46} y={147}>Vol · ETH</T>
      <T x={189} y={147} color="#26a69a">
        1.193 M
      </T>
      <T x={46} y={189} size={29.3}>EMA 20/50/100/200</T>
      {emaX.map((x, k) => (
        <T key={k} x={x} y={189} color={emaColors[k]}>
          {fmt(emaLast[k])}
        </T>
      ))}

      {/* RSI legend */}
      <T x={46} y={1348} size={29.3}>RSI (14, close, SMA, 14, 2)</T>
      <T x={419} y={1348} color="#7e57c2">
        {fmt(rsi[last])}
      </T>
      <T x={509} y={1348} color="#fdd835">
        {fmt(rsiSma[rsiSma.length - 1][1])}
      </T>
      {naX.map((x, k) => (
        <T key={k} x={x} y={1348} family={SANS} size={26}>
          ∅
        </T>
      ))}

      {/* watermark */}
      <div
        ref={wmRef}
        style={{
          position: "absolute",
          left: 11,
          top: 1526,
          fontFamily: '"DejaVu Serif", serif',
          fontWeight: 700,
          fontSize: 93,
          lineHeight: 1,
          color: "#fe1414",
          WebkitTextStroke: "3px #fe1414",
          whiteSpace: "pre",
          transform: `scaleX(${wmScale})`,
          transformOrigin: "0 0",
        }}
      >
        WebGiaCoin.com News
      </div>

      {/* TradingView logo */}
      <svg style={{ position: "absolute", left: 27, top: 1617 }} width={46} height={28} viewBox="0 0 36 22">
        <path d="M14 22H7V11H0V4h14v18zM28 22h-8l7.5-18h8L28 22z" fill="#131722" />
        <circle cx="20" cy="8" r="4" fill="#131722" />
      </svg>
      <T x={83} y={1633} size={31} color="#131722">
        TradingView
      </T>
    </div>
  );
}
